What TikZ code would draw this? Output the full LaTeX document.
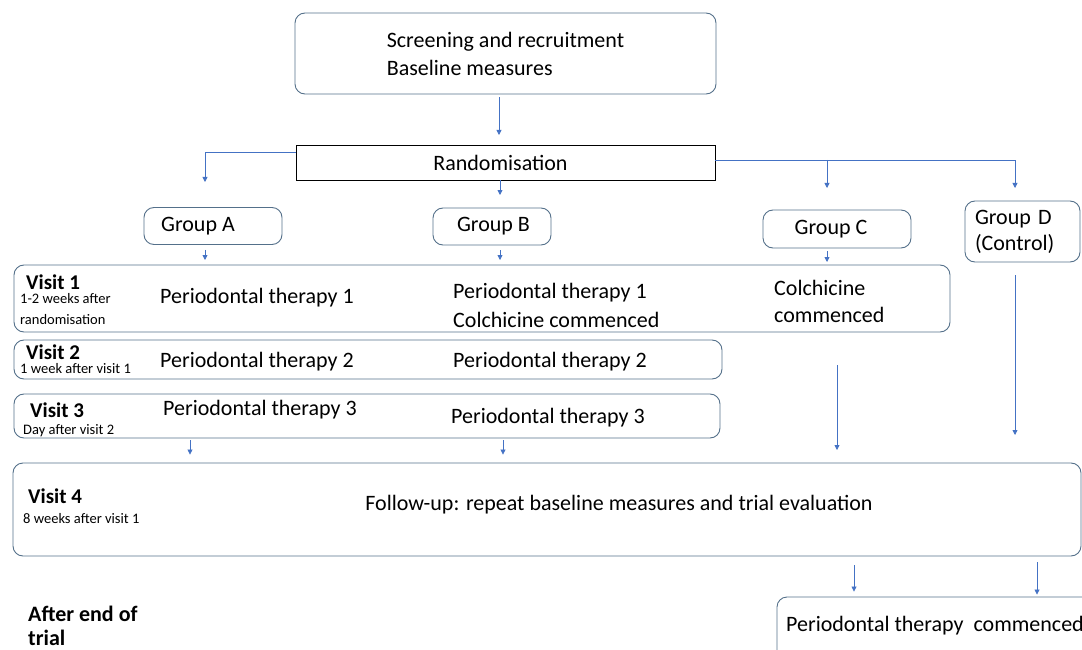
\documentclass[tikz,border=0pt]{standalone}
\usepackage{fontspec}
\setmainfont{Carlito}
\usepackage{tikz}
\usetikzlibrary{positioning}
\usetikzlibrary{arrows.meta}
\definecolor{boxline}{RGB}{84,112,138}
\definecolor{arrowblue}{RGB}{68,114,196}

\tikzset{
  box/.style={draw=boxline, line width=0.9pt, rounded corners=10pt, inner sep=0pt},
  txt/.style={font=\fontsize{22}{28}\selectfont, anchor=west, inner sep=0pt},
  small/.style={font=\fontsize{14.5}{16}\selectfont, anchor=west, inner sep=0pt},
  visit/.style={font=\bfseries\fontsize{21}{24}\selectfont, anchor=west, inner sep=0pt},
  arr/.style={draw=arrowblue, line width=0.8pt, -{Triangle[length=5pt,width=5pt]}}
}

\begin{document}
\begin{tikzpicture}[x=1pt,y=-1pt]
        \useasboundingbox (0,0) rectangle (1082,650);
        % boxes
        \node[box, minimum width=421, minimum height=81, align=left, font=\fontsize{22}{28}\selectfont] (screen) at (505.5,53.5) {Screening and recruitment\\Baseline measures};
        \node[draw=black, line width=0.9pt, minimum width=419, minimum height=35, inner sep=0pt, font=\fontsize{22}{24}\selectfont] (rand) at (505.5,162.5) {\hspace*{-10pt}Randomisation};
        \begin{scope}[every node/.append style={font=\fontsize{22}{26}\selectfont}]
            \node[box, minimum width=138, minimum height=37] (grpA) at (213,226) {\hspace*{-30pt}Group A};
            \node[box, minimum width=118, minimum height=37] (grpB) at (492,226.5) {\hspace*{3pt}Group B};
            \node[box, minimum width=148, minimum height=38] (grpC) at (837,229) {\hspace*{-12pt}Group C};
            \node[box, minimum width=115, minimum height=61, text width=95, align=left] (grpD) at (1022.5,231.5) {Group D\\(Control)};
        \end{scope}
        \node[box, minimum width=936, minimum height=67] (v1) at (482,298.5) {};
        \node[box, minimum width=708, minimum height=39] (v2) at (368,359.5) {};
        \node[box, minimum width=706, minimum height=44] (v3) at (367,416) {};
        \node[box, minimum width=1068, minimum height=93] (v4) at (547,509.5) {};
        \node[box, minimum width=323, minimum height=73] (final) at (938.5,633.5) {};

        % visit texts
        \node[visit] (v1lbl) at (26,282) {Visit 1};
        \node[small] (v1sub) at (20,299) {1-2 weeks after};
        \node[small] (v1sub2) at (20,320) {randomisation};
        \node[txt] (v1a) at (160,298) {Periodontal therapy 1};
        \node[txt] (v1b) at (453,293) {Periodontal therapy 1};
        \node[txt] (v1b2) at (453,320) {Colchicine commenced};
        \node[txt] (v1c) at (774,288) {Colchicine};
        \node[txt] (v1c2) at (774,315) {commenced};

        \node[visit] (v2lbl) at (26,352) {Visit 2};
        \node[small] (v2sub) at (20,369) {1 week after visit 1};
        \node[txt] (v2a) at (160,362) {Periodontal therapy 2};
        \node[txt] (v2b) at (453,362) {Periodontal therapy 2};

        \node[visit] (v3lbl) at (30,410) {Visit 3};
        \node[small] (v3sub) at (23,431) {Day after visit 2};
        \node[txt] (v3a) at (163,410) {Periodontal therapy 3};
        \node[txt] (v3b) at (451,418) {Periodontal therapy 3};

        \node[visit] (v4lbl) at (28,496) {Visit 4};
        \node[small] (v4sub) at (23,519) {8 weeks after visit 1};
        \node[txt, anchor=center] (v4txt) at (619,505) {Follow-up: repeat baseline measures and trial evaluation};

        \node[visit, font=\bfseries\fontsize{22}{24}\selectfont, align=left, anchor=north west] (after) at (28,606) {After end of\\trial};
        \node[txt] (finaltxt) at (786,626) {Periodontal therapy\ \ commenced};

        % arrow ends
        \coordinate (eScr) at (499,135);
        \coordinate (eA) at (205,182);
        \coordinate (eB) at (500,195);
        \coordinate (sC) at (827,160);
        \coordinate (eC) at (827,188);
        \coordinate (eD) at (1015,188);
        \coordinate (eA1) at (205,260);
        \coordinate (eB1) at (500,260);
        \coordinate (eC1) at (827,262);
        \coordinate (sC2) at (837,365);
        \coordinate (eC2) at (837,450);
        \coordinate (eD2) at (1015,435);

        \draw[arr] ([xshift=-6.5,yshift=-3]screen.south) -- (eScr);
        \draw[arr] ([yshift=10]rand.west) -| (eA);
        \draw[arr] ([xshift=-5.5]rand.south) -- (eB);
        \draw[arr] ([yshift=2.5]rand.east) -| (eD);
        \draw[arr] (sC) -- (eC);
        \draw[arr] ([xshift=-8,yshift=-5]grpA.south) -- (eA1);
        \draw[arr] ([xshift=8,yshift=-5]grpB.south) -- (eB1);
        \draw[arr] ([xshift=-10,yshift=-3]grpC.south) -- (eC1);
        \draw[arr] (sC2) -- (eC2);
        \draw[arr] ([xshift=-7.5,yshift=-13]grpD.south) -- (eD2);
        \draw[arr] ([yshift=-2]v3.south -| 190,0) -- ([yshift=8]v4.north -| 190,0);
        \draw[arr] ([yshift=-2]v3.south -| 503,0) -- ([yshift=8]v4.north -| 503,0);
        \draw[arr] ([yshift=-9]v4.south -| 854,0) -- ([yshift=5]final.north -| 854,0);
        \draw[arr] ([yshift=-6]v4.south -| 1037,0) -- ([yshift=2]final.north -| 1037,0);
\end{tikzpicture}
\end{document}
